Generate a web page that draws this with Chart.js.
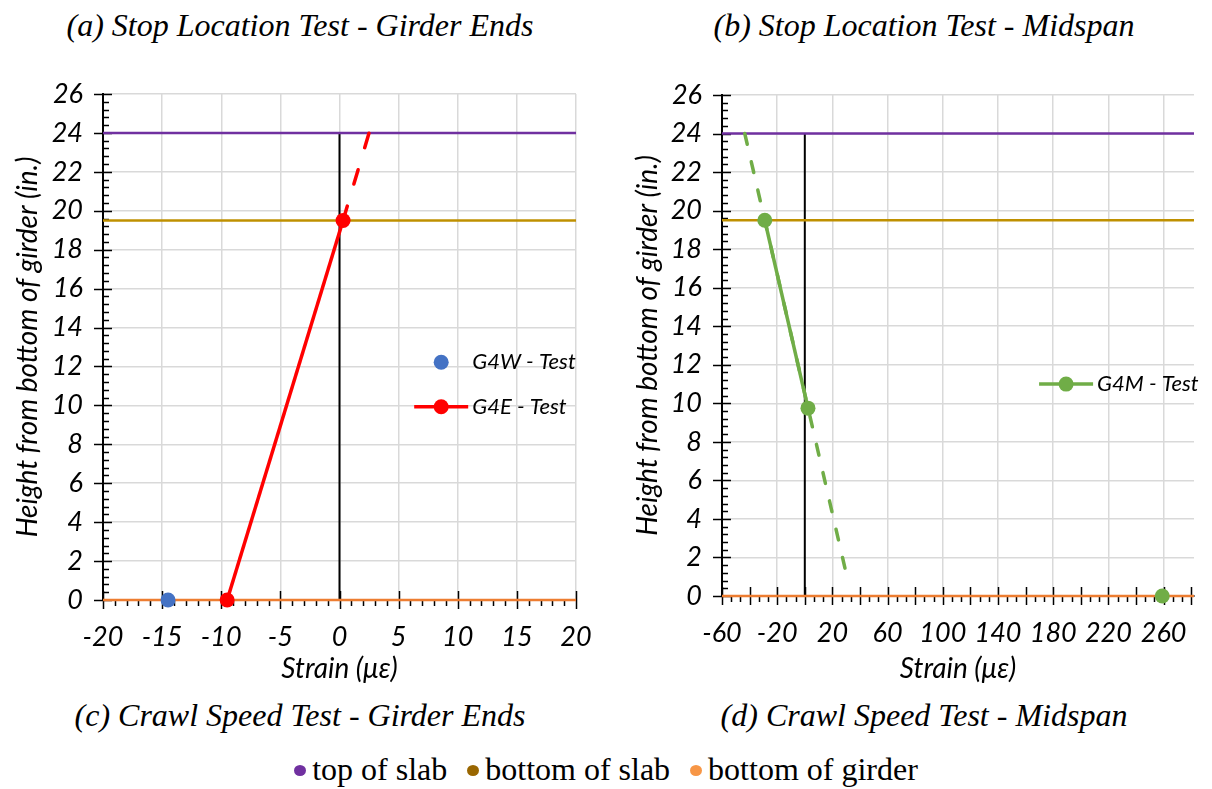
<!DOCTYPE html>
<html>
<head>
<meta charset="utf-8">
<script src="https://cdn.jsdelivr.net/npm/chart.js@4.4.0/dist/chart.umd.min.js"></script>
<style>
    body {
        margin: 0;
        width: 1212px;
        height: 789px;
        background: #fff;
        position: relative;
        overflow: hidden;
        font-family: "Liberation Serif", "Times New Roman", serif;
    }

    .title {
        position: absolute;
        font-style: italic;
        font-size: 32px;
        white-space: nowrap;
        transform: translateX(-50%);
        line-height: 36px;
    }

    .chart-box {
        position: absolute;
        top: 70px;
        height: 630px;
    }

    #legend {
        position: absolute;
        top: 750px;
        left: 0;
        width: 1212px;
        text-align: center;
        font-size: 32px;
        line-height: 38px;
    }

    #legend .item {
        display: inline-block;
        margin: 0 10px;
    }

    #legend .dot {
        display: inline-block;
        width: 12px;
        height: 11px;
        border-radius: 50%;
        margin-right: 6px;
        vertical-align: 4px;
    }
</style>
</head>
<body>
<div class="title" style="left:300px; top:7px">(a) Stop Location Test - Girder Ends</div>
<div class="title" style="left:924px; top:7px">(b) Stop Location Test - Midspan</div>
<div class="title" style="left:300px; top:697px">(c) Crawl Speed Test - Girder Ends</div>
<div class="title" style="left:924px; top:697px">(d) Crawl Speed Test - Midspan</div>

<div class="chart-box" style="left:0; width:600px"><canvas id="endsChart"></canvas></div>
<div class="chart-box" style="left:620px; width:592px"><canvas id="midChart"></canvas></div>

<div id="legend"></div>

<script>
    // axis ticks
    const heightTicks = [0, 2, 4, 6, 8, 10, 12, 14, 16, 18, 20, 22, 24, 26];
    const strainTicksEnds = [-20, -15, -10, -5, 0, 5, 10, 15, 20];
    const strainTicksMid = [-60, -20, 20, 60, 100, 140, 180, 220, 260];
    const strainRangeEnds = [-20, 20];
    const strainRangeMid = [-60, 282];

    // reference heights (in.)
    const slabTop = 24;
    const slabBottom = 19.5;
    const girderBottom = 0;

    // girder ends
    const g4wStrain = [-14.5];
    const g4wHeight = [0];
    const g4eStrain = [-9.5, 0.3];
    const g4eHeight = [0, 19.5];
    const g4eExtStrain = [0.3, 2.5];
    const g4eExtHeight = [19.5, 24];

    // midspan
    const g4mStrain = [-29, 2.3];
    const g4mHeight = [19.5, 9.75];
    const g4mExtStrain = [-43.5, 31.5];
    const g4mExtHeight = [24, 0.7];
    const g4mBottomStrain = [259];
    const g4mBottomHeight = [0];

    const neutralStrain = [0, 0];
    const neutralHeight = [0, 24];

    const colors = {
        top: '#7030A0',
        slab: '#BF9000',
        girder: '#ED7D31',
        g4w: '#4472C4',
        g4e: '#FF0000',
        g4m: '#70AD47',
    }

    const tickFont = {family: 'Lato', style: 'italic', size: 27};
    const titleFont = {family: 'Lato', style: 'italic', size: 28};

    function points(xs, ys) {
        return xs.map((x, i) => ({x: x, y: ys[i]}));
    }

    function flatLine(range, value) {
        return range.map(x => ({x: x, y: value}));
    }

    function refLines(range) {
        return [
            {label: 'bottom of girder', data: flatLine(range, girderBottom), borderColor: colors.girder, borderWidth: 2.5, pointRadius: 0, showLine: true, clip: false, order: 5},
            {label: 'bottom of slab', data: flatLine(range, slabBottom), borderColor: colors.slab, borderWidth: 2.5, pointRadius: 0, showLine: true, clip: false, order: 6},
            {label: 'top of slab', data: flatLine(range, slabTop), borderColor: colors.top, borderWidth: 2.5, pointRadius: 0, showLine: true, clip: false, order: 7},
            {label: 'neutral', data: points(neutralStrain, neutralHeight), borderColor: '#000', borderWidth: 2, pointRadius: 0, showLine: true, clip: false, order: 8},
        ]
    }

    // Excel style tick marks: majors cross the axis, minors sit on one side
    const axisTicks = {
        id: 'axisTicks',
        beforeDatasetsDraw(chart, args, opts) {
            const {ctx, chartArea, scales: {x, y}} = chart;
            ctx.save();
            ctx.strokeStyle = '#000';
            ctx.lineWidth = 1.5;
            ctx.beginPath();

            for (let v = y.min; v <= y.max + 1e-6; v += opts.yMajor) {
                const py = Math.round(y.getPixelForValue(v)) + 0.5;
                ctx.moveTo(chartArea.left - 9, py);
                ctx.lineTo(chartArea.left + 9, py);
            }
            for (let v = y.min; v <= y.max + 1e-6; v += opts.yMajor / opts.yMinorCount) {
                const py = Math.round(y.getPixelForValue(v)) + 0.5;
                ctx.moveTo(chartArea.left, py);
                ctx.lineTo(chartArea.left + 6, py);
            }
            for (let v = x.min; v <= x.max + 1e-6; v += opts.xMajor) {
                const px = Math.round(x.getPixelForValue(v)) + 0.5;
                ctx.moveTo(px, chartArea.bottom - 9);
                ctx.lineTo(px, chartArea.bottom + 9);
            }
            for (let v = x.min; v <= x.max + 1e-6; v += opts.xMajor / opts.xMinorCount) {
                const px = Math.round(x.getPixelForValue(v)) + 0.5;
                ctx.moveTo(px, chartArea.bottom);
                ctx.lineTo(px, chartArea.bottom + 6);
            }
            ctx.stroke();
            ctx.restore();
        }
    }

    // legend that sits inside the plot area
    const insideLegend = {
        id: 'insideLegend',
        afterDraw(chart, args, opts) {
            const {ctx, chartArea} = chart;
            ctx.save();
            ctx.font = 'italic 22px Lato';
            ctx.textBaseline = 'middle';
            ctx.fillStyle = '#000';

            opts.items.forEach(item => {
                const ds = chart.data.datasets[item.index];
                const cx = chartArea.left + item.x * chartArea.width;
                const cy = chartArea.top + item.y * chartArea.height;

                if (ds.showLine) {
                    ctx.strokeStyle = ds.borderColor;
                    ctx.lineWidth = ds.borderWidth;
                    ctx.beginPath();
                    ctx.moveTo(cx - 27, cy);
                    ctx.lineTo(cx + 27, cy);
                    ctx.stroke();
                }
                ctx.fillStyle = ds.pointBackgroundColor;
                ctx.beginPath();
                ctx.arc(cx, cy, ds.pointRadius, 0, Math.PI * 2);
                ctx.fill();

                ctx.fillStyle = '#000';
                ctx.fillText(ds.label, cx + 31, cy);
            })
            ctx.restore();
        }
    }

    function makeOptions(range, ticks, yWidth, xHeight, padding, tickOpts, legendItems) {
        return {
            responsive: true,
            maintainAspectRatio: false,
            animation: false,
            layout: {padding: padding},
            plugins: {
                legend: {display: false},
                tooltip: {enabled: false},
                axisTicks: tickOpts,
                insideLegend: {items: legendItems},
            },
            scales: {
                x: {
                    type: 'linear',
                    min: range[0],
                    max: range[1],
                    afterBuildTicks: scale => {
                        scale.ticks = ticks.map(v => ({value: v}))
                    },
                    afterFit: scale => {
                        scale.height = xHeight;
                        scale.paddingLeft = 0;
                        scale.paddingRight = 0;
                    },
                    grid: {color: '#d9d9d9', lineWidth: 1.5, drawTicks: false},
                    border: {display: true, color: '#000', width: 2},
                    ticks: {font: tickFont, color: '#000', padding: 21, maxRotation: 0},
                    title: {
                        display: true,
                        text: 'Strain (με)',
                        font: titleFont,
                        color: '#000',
                        padding: {top: 0, bottom: 14},
                    }
                },
                y: {
                    type: 'linear',
                    min: 0,
                    max: 26,
                    afterBuildTicks: scale => {
                        scale.ticks = heightTicks.map(v => ({value: v}))
                    },
                    afterFit: scale => {
                        scale.width = yWidth;
                        scale.paddingTop = 0;
                        scale.paddingBottom = 0;
                    },
                    grid: {color: '#d9d9d9', lineWidth: 1.5, drawTicks: false},
                    border: {display: true, color: '#000', width: 2},
                    ticks: {font: tickFont, color: '#000', padding: 20},
                    title: {
                        display: true,
                        text: 'Height from bottom of girder (in.)',
                        font: titleFont,
                        color: '#000',
                        padding: 11,
                    }
                }
            }
        }
    }

    new Chart(document.getElementById('endsChart'), {
        type: 'scatter',
        data: {
            datasets: [
                {label: 'G4W - Test', data: points(g4wStrain, g4wHeight), pointRadius: 7.5, pointBackgroundColor: colors.g4w, pointBorderWidth: 0, showLine: false, clip: false, order: 1},
                {label: 'G4E - Test', data: points(g4eStrain, g4eHeight), borderColor: colors.g4e, borderWidth: 3.5, pointRadius: 7.5, pointBackgroundColor: colors.g4e, pointBorderWidth: 0, showLine: true, clip: false, order: 2},
                {label: 'G4E ext', data: points(g4eExtStrain, g4eExtHeight), borderColor: colors.g4e, borderWidth: 3.5, borderDash: [15, 23], borderCapStyle: 'round', pointRadius: 0, showLine: true, clip: false, order: 3},
                ...refLines(strainRangeEnds),
            ]
        },
        options: makeOptions(strainRangeEnds, strainTicksEnds, 103, 100, {left: 0, top: 24, right: 24, bottom: 0},
            {xMajor: 5, xMinorCount: 5, yMajor: 2, yMinorCount: 5},
            [{index: 0, x: 0.715, y: 0.53}, {index: 1, x: 0.715, y: 0.618}]),
        plugins: [axisTicks, insideLegend],
    })

    new Chart(document.getElementById('midChart'), {
        type: 'scatter',
        data: {
            datasets: [
                {label: 'G4M - Test', data: points(g4mStrain, g4mHeight), borderColor: colors.g4m, borderWidth: 3.5, pointRadius: 7.5, pointBackgroundColor: colors.g4m, pointBorderWidth: 0, showLine: true, clip: false, order: 1},
                {label: 'G4M bottom', data: points(g4mBottomStrain, g4mBottomHeight), pointRadius: 7.5, pointBackgroundColor: colors.g4m, pointBorderWidth: 0, showLine: false, clip: false, order: 1},
                {label: 'G4M ext', data: points(g4mExtStrain, g4mExtHeight), borderColor: colors.g4m, borderWidth: 3.5, borderDash: [11, 18], borderCapStyle: 'round', pointRadius: 0, showLine: true, clip: false, order: 3},
                ...refLines(strainRangeMid),
            ]
        },
        options: makeOptions(strainRangeMid, strainTicksMid, 102, 104, {left: 0, top: 25, right: 18, bottom: 0},
            {xMajor: 20, xMinorCount: 3, yMajor: 2, yMinorCount: 5},
            [{index: 0, x: 0.729, y: 0.577}]),
        plugins: [axisTicks, insideLegend],
    })

    // shared legend under the four titles
    const legendItems = [
        {label: 'top of slab', color: '#7030A0'},
        {label: 'bottom of slab', color: '#996600'},
        {label: 'bottom of girder', color: '#F79646'},
    ]
    document.getElementById('legend').innerHTML = legendItems
        .map(item => `<span class="item"><span class="dot" style="background:${item.color}"></span>${item.label}</span>`)
        .join('');
</script>
</body>
</html>
